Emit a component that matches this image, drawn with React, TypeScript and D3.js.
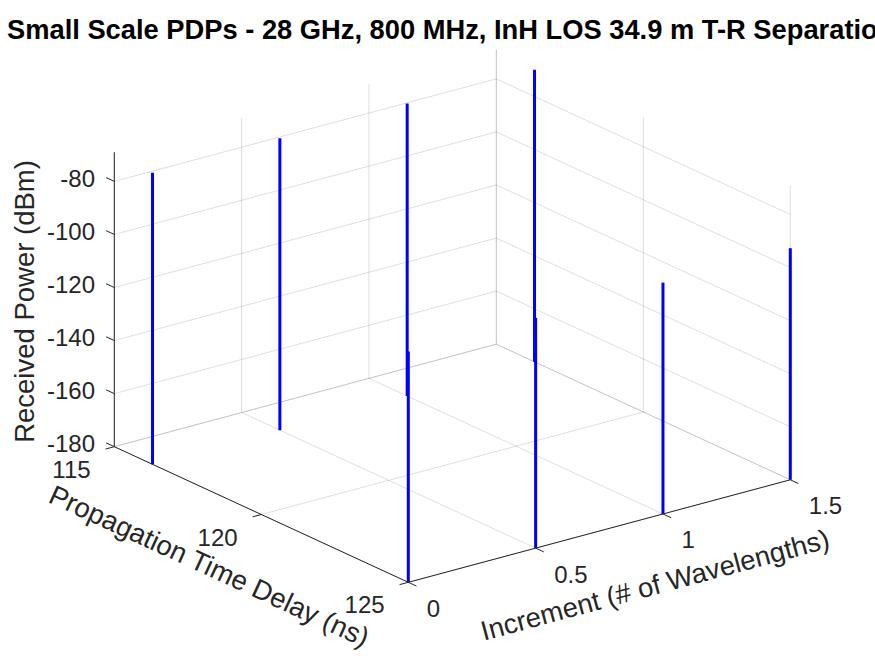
import React from 'react'
import * as d3 from 'd3'

// tick values
const delayTicks = [115, 120, 125]
const incrementTicks = [0, 0.5, 1, 1.5]
const powerTicks = [-180, -160, -140, -120, -100, -80]

// stems: received power (dBm) at each increment, two arrivals
const stemIncrements = [0, 0.5, 1, 1.5]
const firstPathDelay = [116.3, 116.3, 116.3, 116.3]
const firstPathPower = [-70.1, -70.0, -69.8, -69.9]
const secondPathDelay = [125, 125, 125, 125]
const secondPathPower = [-93.0, -93.2, -92.8, -92.7]

const W = 875
const H = 656
const FONT = '"Liberation Sans", Arial, Helvetica, sans-serif'

// orthographic view of the axes box
const origin = [114.3, 446.7]
const delayVec = [294, 135.6]
const incVec = [382, -102.5]
const powerSpan = 294.5

const xs = d3.scaleLinear().domain([115, 125]).range([0, 1])
const ys = d3.scaleLinear().domain([0, 1.5]).range([0, 1])
const zs = d3.scaleLinear().domain([-180, -69]).range([0, powerSpan])

const [dMin, dMax] = xs.domain()
const [iMin, iMax] = ys.domain()
const [zMin, zMax] = zs.domain()

function proj(d: number, i: number, p: number): [number, number] {
  const a = xs(d)
  const b = ys(i)
  return [
    origin[0] + delayVec[0] * a + incVec[0] * b,
    origin[1] + delayVec[1] * a + incVec[1] * b - zs(p),
  ]
}

function unit(v: number[]) {
  const n = Math.hypot(v[0], v[1])
  return [v[0] / n, v[1] / n]
}
const dU = unit(delayVec)
const iU = unit(incVec)
const TICK = 9

type Seg = [[number, number], [number, number]]

export default function App() {
  const grid: Seg[] = []
  // floor
  incrementTicks.forEach(i => grid.push([proj(dMin, i, zMin), proj(dMax, i, zMin)]))
  delayTicks.forEach(d => grid.push([proj(d, iMin, zMin), proj(d, iMax, zMin)]))
  // back-left wall (delay = min)
  powerTicks.forEach(z => grid.push([proj(dMin, iMin, z), proj(dMin, iMax, z)]))
  incrementTicks.forEach(i => grid.push([proj(dMin, i, zMin), proj(dMin, i, zMax)]))
  // back-right wall (increment = max)
  powerTicks.forEach(z => grid.push([proj(dMin, iMax, z), proj(dMax, iMax, z)]))
  delayTicks.forEach(d => grid.push([proj(d, iMax, zMin), proj(d, iMax, zMax)]))

  const stems: Seg[] = []
  stemIncrements.forEach((inc, k) => {
    stems.push([proj(firstPathDelay[k], inc, zMin), proj(firstPathDelay[k], inc, firstPathPower[k])])
    stems.push([proj(secondPathDelay[k], inc, zMin), proj(secondPathDelay[k], inc, secondPathPower[k])])
  })

  const axisColor = '#262626'
  const A = proj(dMin, iMin, zMin)
  const B = proj(dMax, iMin, zMin)
  const C = proj(dMax, iMax, zMin)
  const Ztop = proj(dMin, iMin, zMax)
  const delayMid = proj((dMin + dMax) / 2, iMin, zMin)
  const incMid = proj(dMax, (iMin + iMax) / 2, zMin)
  const delayAngle = (Math.atan2(delayVec[1], delayVec[0]) * 180) / Math.PI
  const incAngle = (Math.atan2(incVec[1], incVec[0]) * 180) / Math.PI

  return (
    <svg
      width={W}
      height={H}
      style={{ position: 'absolute', left: 0, top: 0, display: 'block', background: '#fff' }}
      fontFamily={FONT}
    >
      <rect width={W} height={H} fill="#fff" />
      <text x={7} y={39.3} fontSize={27.3} fontWeight="bold" fill="#000">
        Small Scale PDPs - 28 GHz, 800 MHz, InH LOS 34.9 m T-R Separation
      </text>

      <g stroke="#262626" strokeOpacity={0.15} strokeWidth={1}>
        {grid.map((s, k) => (
          <line key={k} x1={s[0][0]} y1={s[0][1]} x2={s[1][0]} y2={s[1][1]} />
        ))}
      </g>

      <g stroke="#0000ff" strokeWidth={3}>
        {stems.map((s, k) => (
          <line key={k} x1={s[0][0]} y1={s[0][1]} x2={s[1][0]} y2={s[1][1]} />
        ))}
      </g>

      <g stroke={axisColor} strokeWidth={1} fill="none">
        <line x1={A[0]} y1={A[1]} x2={Ztop[0]} y2={Ztop[1]} />
        <line x1={A[0]} y1={A[1]} x2={B[0]} y2={B[1]} />
        <line x1={B[0]} y1={B[1]} x2={C[0]} y2={C[1]} />
        {powerTicks.map(z => {
          const p = proj(dMin, iMin, z)
          return <line key={'zt' + z} x1={p[0]} y1={p[1]} x2={p[0] - dU[0] * TICK} y2={p[1] - dU[1] * TICK} />
        })}
        {delayTicks.map(d => {
          const p = proj(d, iMin, zMin)
          return <line key={'dt' + d} x1={p[0]} y1={p[1]} x2={p[0] - iU[0] * TICK} y2={p[1] - iU[1] * TICK} />
        })}
        {incrementTicks.map(i => {
          const p = proj(dMax, i, zMin)
          return <line key={'it' + i} x1={p[0]} y1={p[1]} x2={p[0] + dU[0] * TICK} y2={p[1] + dU[1] * TICK} />
        })}
      </g>

      <g fontSize={24} fill={axisColor}>
        {powerTicks.map(z => {
          const p = proj(dMin, iMin, z)
          return (
            <text key={'zl' + z} x={p[0] - 19.3} y={p[1] - 3} textAnchor="end" dominantBaseline="central">
              {z}
            </text>
          )
        })}
        {delayTicks.map(d => {
          const p = proj(d, iMin, zMin)
          return (
            <text key={'dl' + d} x={p[0] - 23.7} y={p[1] + 22.5} textAnchor="end" dominantBaseline="central">
              {d}
            </text>
          )
        })}
        {incrementTicks.map(i => {
          const p = proj(dMax, i, zMin)
          return (
            <text key={'il' + i} x={p[0] + 18.5} y={p[1] + 26} textAnchor="start" dominantBaseline="central">
              {i}
            </text>
          )
        })}
      </g>

      <g fontSize={27.5} fill={axisColor} textAnchor="middle" dominantBaseline="central">
        <text transform={`translate(24,301.5) rotate(-90)`}>Received Power (dBm)</text>
        <text transform={`translate(${delayMid[0] - 52},${delayMid[1] + 51.5}) rotate(${delayAngle})`}>
          Propagation Time Delay (ns)
        </text>
        <text transform={`translate(${incMid[0] + 55.7},${incMid[1] + 53.8}) rotate(${incAngle})`}>
          Increment (# of Wavelengths)
        </text>
      </g>
    </svg>
  )
}
